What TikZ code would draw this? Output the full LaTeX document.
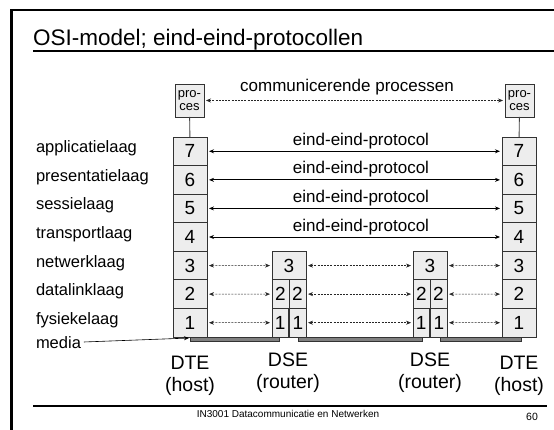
\documentclass[tikz,border=0pt]{standalone}
\usepackage{fontspec}
\setmainfont{Liberation Sans}
\usetikzlibrary{arrows.meta}

\begin{document}
\begin{tikzpicture}[x=1pt,y=-1pt,
  every node/.style={inner sep=0pt, outer sep=0pt},
  cell/.style={draw=black!80, fill=black!7, line width=0.9pt, minimum height=28.57pt,
    font=\fontsize{19}{19}\selectfont},
  hostcell/.style={cell, minimum width=34pt},
  halfcell/.style={cell, minimum width=17pt},
  lowcell/.style={cell, minimum width=16.2pt},
  procbox/.style={draw=black!80, fill=black!7, line width=0.9pt, minimum width=29pt,
    minimum height=33pt, align=center, font=\fontsize{13}{13.5}\selectfont},
  lyr/.style={font=\fontsize{17}{17}\selectfont},
  side/.style={font=\fontsize{16.5}{16.5}\selectfont},
  big/.style={font=\fontsize{19.5}{19.5}\selectfont},
  small/.style={font=\fontsize{10}{10}\selectfont},
  mediabar/.style={draw=black!80, fill=black!50, line width=0.5pt, minimum height=4pt},
  proto/.style={{Stealth[length=5pt,width=4pt]}-{Stealth[length=5pt,width=4pt]},
    line width=0.8pt, shorten <=2pt, shorten >=2pt},
  peer/.style={{Stealth[length=5pt,width=4pt]}-{Stealth[length=5pt,width=4pt]},
    line width=0.5pt, black!85, dash pattern=on 2pt off 1.2pt,
    shorten <=2pt, shorten >=2pt},
]
\useasboundingbox (0,0) rectangle (554,430);

% slide frame and rules
\draw[line width=2.5pt, line join=miter] (11.5,430) -- (11.5,10) -- (554,10);
\node[anchor=base west, font=\fontsize{22.5}{22.5}\selectfont] (title) at (33,46)
  {OSI-model; eind-eind-protocollen};
\draw[line width=1.3pt] (33,51) -- (554,51);
\draw[line width=1.3pt] (33,406) -- (547,406);
\node[small, anchor=base] (footer) at (288,417) {IN3001 Datacommunicatie en Netwerken};
\node[font=\fontsize{10.5}{10.5}\selectfont, anchor=base] (pagenr) at (532,420) {60};

% end systems: seven layers each
\foreach \n in {1,...,7} {
  \node[hostcell] (A\n) at (190, {337-(\n-0.5)*28.571}) {\n};
  \node[hostcell] (D\n) at (519, {337-(\n-0.5)*28.571}) {\n};
}

% routers: layers 1 to 3
\node[hostcell] (B3) at (289,265.6) {3};
\node[halfcell] (B2l) at (280.5,294.1) {2};
\node[halfcell] (B2r) at (297.5,294.1) {2};
\node[lowcell] (B1l) at (280.1,322.7) {1};
\node[lowcell] (B1r) at (297.9,322.7) {1};
\node[hostcell] (C3) at (430,265.6) {3};
\node[halfcell] (C2l) at (421.5,294.1) {2};
\node[halfcell] (C2r) at (438.5,294.1) {2};
\node[lowcell] (C1l) at (421.1,322.7) {1};
\node[lowcell] (C1r) at (438.9,322.7) {1};

% processes on top
\node[procbox] (P1) at (189.5,100.5) {pro-\\ces};
\node[procbox] (P2) at (519.5,100.5) {pro-\\ces};
\draw[line width=0.9pt, black!75] (P1) -- (A7);
\draw[line width=0.9pt, black!75] (P2) -- (D7);
\draw[peer] (P1) -- (P2);
\node[lyr, anchor=base] (comm) at (347,92) {communicerende processen};

% end-to-end protocols
\foreach \n in {7,6,5,4} {
  \draw[proto] (A\n) -- (D\n);
  \node[lyr, anchor=base] (e\n) at (361, {337-(\n-0.5)*28.571-6}) {eind-eind-protocol};
}

% hop-by-hop peers
\draw[peer] (A3) -- (B3);
\draw[peer] (B3) -- (C3);
\draw[peer] (C3) -- (D3);
\draw[peer] (A2) -- (B2l);
\draw[peer] (B2r) -- (C2l);
\draw[peer] (C2r) -- (D2);
\draw[peer] (A1) -- (B1l);
\draw[peer] (B1r) -- (C1l);
\draw[peer] (C1r) -- (D1);

% layer names
\foreach \n/\t in {7/applicatielaag,6/presentatielaag,5/sessielaag,4/transportlaag,
                   3/netwerklaag,2/datalinklaag,1/fysiekelaag} {
  \node[side, anchor=base west] (n\n) at (36, {337-(\n-0.5)*28.571+1.5}) {\t};
}

% media
\node[mediabar, minimum width=89pt] (M1) at (234.5,339.5) {};
\node[mediabar, minimum width=124pt] (M2) at (360,339.5) {};
\node[mediabar, minimum width=81pt] (M3) at (480.5,339.5) {};
\node[side, anchor=base west] (media) at (36,348) {media};
\draw[-{Stealth[length=5pt,width=4pt]}, line width=0.6pt, shorten <=3pt, shorten >=1pt]
  (media.east) -- ([yshift=1.5pt]M1.west);

% device names
\node[big, anchor=base] (t1) at (190,369) {DTE};
\node[big, anchor=base] (t1b) at (190,391) {(host)};
\node[big, anchor=base] (t2) at (288,366) {DSE};
\node[big, anchor=base] (t2b) at (288,388) {(router)};
\node[big, anchor=base] (t3) at (430,366) {DSE};
\node[big, anchor=base] (t3b) at (430,388) {(router)};
\node[big, anchor=base] (t4) at (519,369) {DTE};
\node[big, anchor=base] (t4b) at (519,391) {(host)};
\end{tikzpicture}
\end{document}
